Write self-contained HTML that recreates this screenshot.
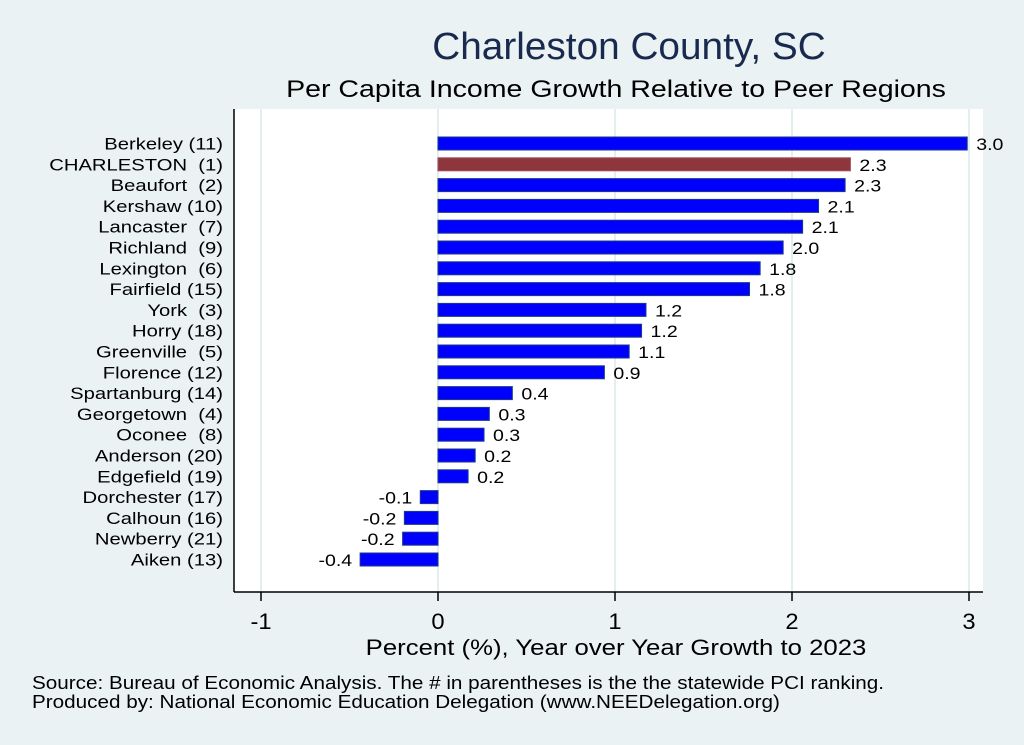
<!DOCTYPE html>
<html><head><meta charset="utf-8"><style>
body{margin:0;background:#eaf2f3;font-family:"Liberation Sans",Arial,sans-serif;}
svg{display:block}
text{white-space:pre}
</style></head><body>
<svg id="chart" width="1024" height="745" xmlns="http://www.w3.org/2000/svg">
<rect x="0" y="0" width="1024" height="745" fill="#eaf2f3"/>
<g transform="translate(629,59) scale(1.02,1)"><text x="0" y="0" font-size="38" fill="#1a2a4f" text-anchor="middle">Charleston County, SC</text></g>
<g transform="translate(616,97) scale(1.19,1)"><text x="0" y="0" font-size="24" fill="#000" text-anchor="middle">Per Capita Income Growth Relative to Peer Regions</text></g>
<rect x="234" y="109" width="749" height="483" fill="#fff"/>
<g id="grid"></g><g id="bars"></g><g id="labels"></g><g id="xaxis"></g>
<line x1="234" y1="109" x2="234" y2="592" stroke="#000" stroke-width="1.5"/>
<line x1="234" y1="592" x2="983" y2="592" stroke="#000" stroke-width="1.5"/>
<g transform="translate(616,655) scale(1.17,1)"><text x="0" y="0" font-size="22" text-anchor="middle">Percent (%), Year over Year Growth to 2023</text></g>
<g transform="translate(32,689) scale(1.1,1)"><text x="0" y="0" font-size="18.8">Source: Bureau of Economic Analysis. The # in parentheses is the the statewide PCI ranking.</text></g>
<g transform="translate(32,708) scale(1.1,1)"><text x="0" y="0" font-size="18.8">Produced by: National Economic Education Delegation (www.NEEDelegation.org)</text></g>
</svg>
<script>
const categories=["Berkeley (11)","CHARLESTON  (1)","Beaufort  (2)","Kershaw (10)","Lancaster  (7)","Richland  (9)","Lexington  (6)","Fairfield (15)","York  (3)","Horry (18)","Greenville  (5)","Florence (12)","Spartanburg (14)","Georgetown  (4)","Oconee  (8)","Anderson (20)","Edgefield (19)","Dorchester (17)","Calhoun (16)","Newberry (21)","Aiken (13)"];
const values=[2.99,2.33,2.30,2.15,2.06,1.95,1.82,1.76,1.175,1.15,1.08,0.94,0.42,0.29,0.26,0.21,0.17,-0.10,-0.19,-0.20,-0.44];
const valueLabels=["3.0","2.3","2.3","2.1","2.1","2.0","1.8","1.8","1.2","1.2","1.1","0.9","0.4","0.3","0.3","0.2","0.2","-0.1","-0.2","-0.2","-0.4"];
const highlight="CHARLESTON  (1)";
const xTicks=[-1,0,1,2,3];
const NS="http://www.w3.org/2000/svg";
function xs(v){return 438+v*177;}
function ys(i){return 143.5+i*20.8;}
function mk(tag,attrs,parent,txt){const e=document.createElementNS(NS,tag);for(const k in attrs)e.setAttribute(k,attrs[k]);if(txt!==undefined)e.textContent=txt;parent.appendChild(e);return e;}
function mkText(x,y,size,sx,anchor,parent,txt){
  const g=mk('g',{transform:'translate('+x+','+y+') scale('+sx+',1)'},parent);
  return mk('text',{x:0,y:0,'font-size':size,'text-anchor':anchor},g,txt);
}
const grid=document.getElementById('grid'),bars=document.getElementById('bars'),labels=document.getElementById('labels'),xaxis=document.getElementById('xaxis');
xTicks.forEach(t=>{
  const g=mk('line',{x1:xs(t),x2:xs(t),y1:109,y2:592,stroke:'#e4eef0','stroke-width':2},grid);
  
  
  const tk=mk('line',{x1:xs(t),x2:xs(t),y1:592,y2:601,stroke:'#000','stroke-width':1.5},xaxis);
  
  
  const tl=mkText(xs(t),629,22,1.08,'middle',xaxis,String(t));
  
  
});
categories.forEach((c,i)=>{
  const v=values[i],y=ys(i),x0=xs(0),x1=xs(v);
  const hi=c===highlight;
  const r=mk('rect',{x:Math.min(x0,x1),y:y-6.5,width:Math.abs(x1-x0),height:13,fill:hi?'#8e353e':'#0000ff',stroke:hi?'#a05058':'#1a3a8a','stroke-width':1},bars);
  
  
  const cl=mkText(223,y+6,17,1.19,'end',labels,c);
  
  
  const vl=mkText(v>=0?x1+9:x1-8,y+6.5,17,1.15,v>=0?'start':'end',labels,valueLabels[i]);
  
  
});
</script>
</body></html>
